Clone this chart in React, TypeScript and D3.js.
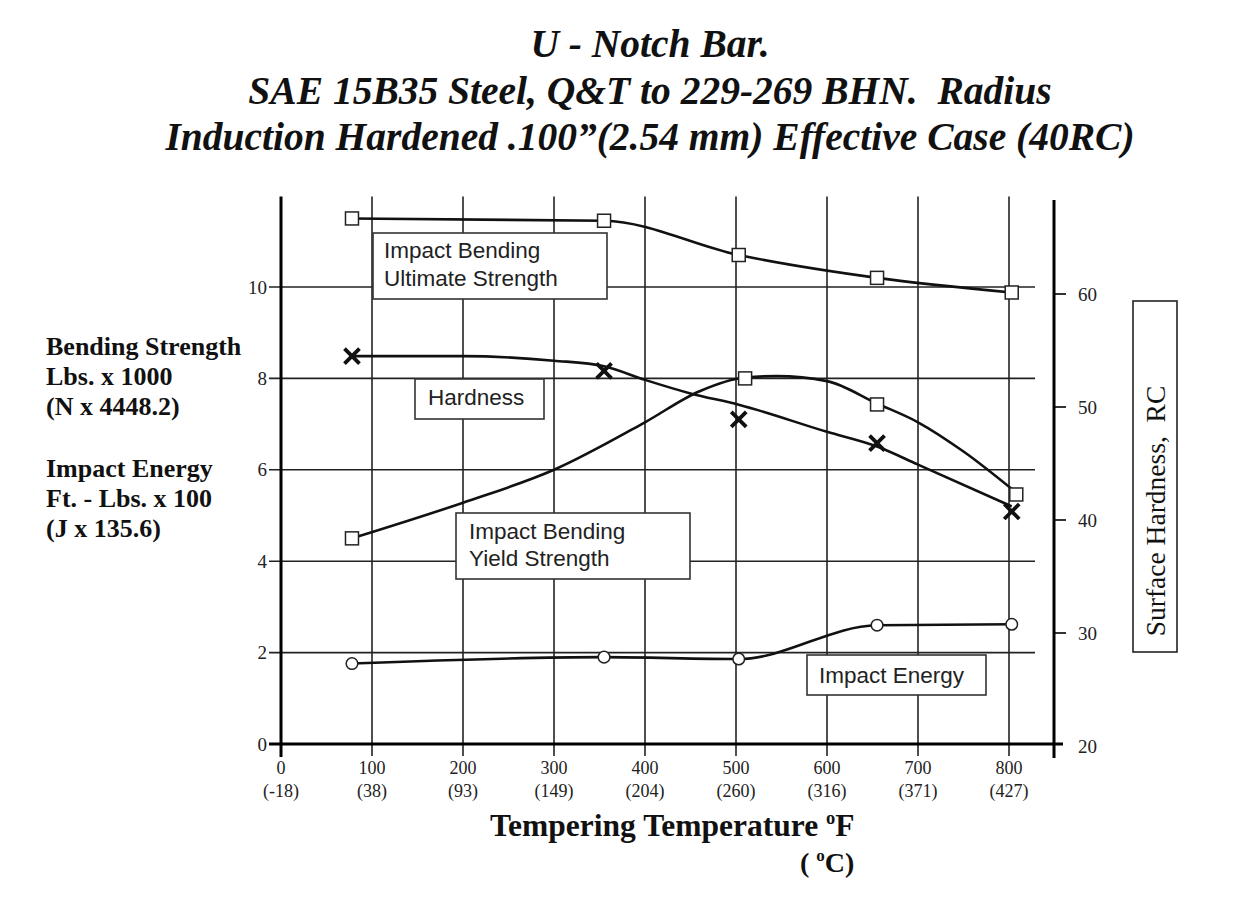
import React from "react";
import * as d3 from "d3";

// ---- data ----
const titleLines = [
  "U - Notch Bar.",
  "SAE 15B35 Steel, Q&T to 229-269 BHN.  Radius",
  "Induction Hardened .100\u201d(2.54 mm) Effective Case (40RC)",
];

const xTicksF = [0, 100, 200, 300, 400, 500, 600, 700, 800];
const xTicksC = ["(-18)", "(38)", "(93)", "(149)", "(204)", "(260)", "(316)", "(371)", "(427)"];
const yLeftTicks = [0, 2, 4, 6, 8, 10];
const yRightTicks = [20, 30, 40, 50, 60];

// Impact bending ultimate strength (Lbs x 1000), square markers
const ultimateTemps = [78, 355, 503, 655, 803];
const ultimateValues = [11.5, 11.45, 10.7, 10.2, 9.88];

// Impact bending yield strength (Lbs x 1000), square markers
const yieldTemps = [78, 510, 655, 808];
const yieldValues = [4.5, 8.0, 7.43, 5.46];
// yield curve as drawn
const yieldCurveTemps = [78, 200, 300, 400, 460, 510, 545, 600, 655, 700, 750, 808];
const yieldCurveValues = [4.5, 5.28, 6.0, 7.04, 7.72, 8.02, 8.05, 7.94, 7.45, 7.04, 6.4, 5.5];

// Surface hardness (RC), X markers
const hardTemps = [78, 355, 503, 655, 803];
const hardValues = [54.5, 53.2, 48.9, 46.8, 40.75];
// hardness curve as drawn
const hardCurveTemps = [78, 200, 300, 355, 400, 450, 503, 600, 655, 700, 803];
const hardCurveValues = [54.5, 54.5, 54.1, 53.6, 52.4, 51.2, 50.2, 47.8, 46.5, 44.9, 41.2];

// Impact energy (Ft-Lbs x 100), circle markers
const energyTemps = [78, 355, 503, 655, 803];
const energyValues = [1.76, 1.9, 1.86, 2.6, 2.62];

const legendUltimate = ["Impact Bending", "Ultimate Strength"];
const legendHardness = ["Hardness"];
const legendYield = ["Impact Bending", "Yield Strength"];
const legendEnergy = ["Impact Energy"];

const leftLabel1 = ["Bending Strength", "Lbs. x 1000", "(N x 4448.2)"];
const leftLabel2 = ["Impact Energy", "Ft. - Lbs. x 100", "(J x 135.6)"];
const rightLabel = "Surface Hardness,  RC";

const SERIF = "'Liberation Serif', 'Times New Roman', serif";
const SANS = "'Liberation Sans', Arial, sans-serif";

export default function App() {
  const x = d3.scaleLinear().domain([0, 800]).range([281, 1009]);
  const yL = d3.scaleLinear().domain([0, 12]).range([744, 195.6]);
  const yR = d3.scaleLinear().domain([20, 60]).range([746, 294]);

  const lineL = d3
    .line<[number, number]>()
    .x((d) => x(d[0]))
    .y((d) => yL(d[1]))
    .curve(d3.curveMonotoneX);
  const lineR = d3
    .line<[number, number]>()
    .x((d) => x(d[0]))
    .y((d) => yR(d[1]))
    .curve(d3.curveMonotoneX);

  const zip = (a: number[], b: number[]) => a.map((t, i) => [t, b[i]] as [number, number]);

  const ultimate = zip(ultimateTemps, ultimateValues);
  const yieldPts = zip(yieldTemps, yieldValues);
  const yieldCurve = zip(yieldCurveTemps, yieldCurveValues);
  const hard = zip(hardTemps, hardValues);
  const hardCurve = zip(hardCurveTemps, hardCurveValues);
  const energy = zip(energyTemps, energyValues);

  const gridColor = "#222";
  const lineColor = "#111";

  const box = (
    x0: number,
    y0: number,
    w: number,
    h: number,
    lines: string[],
    tx: number,
    ty: number,
    dy: number,
    key: string
  ) => (
    <g key={key}>
      <rect x={x0} y={y0} width={w} height={h} fill="#fff" stroke="#333" strokeWidth={1.6} />
      {lines.map((l, i) => (
        <text key={i} x={tx} y={ty + i * dy} fontFamily={SANS} fontSize={22.5} fill="#222">
          {l}
        </text>
      ))}
    </g>
  );

  const sq = 13;

  return (
    <svg
      width={1239}
      height={913}
      viewBox="0 0 1239 913"
      style={{ position: "absolute", left: 0, top: 0, background: "#fff" }}
    >
      <rect x={0} y={0} width={1239} height={913} fill="#fff" />

      {/* title */}
      {titleLines.map((t, i) => (
        <text
          key={i}
          x={650}
          y={57 + i * 46.5}
          textAnchor="middle"
          fontFamily={SERIF}
          fontWeight="bold"
          fontStyle="italic"
          fontSize={39.5}
          fill="#111"
          style={{ whiteSpace: "pre" }}
        >
          {t}
        </text>
      ))}

      {/* horizontal grid lines */}
      {yLeftTicks
        .filter((v) => v > 0)
        .map((v) => (
          <line key={"hg" + v} x1={269} x2={1035} y1={yL(v)} y2={yL(v)} stroke={gridColor} strokeWidth={1.6} />
        ))}
      {/* vertical grid lines */}
      {xTicksF
        .filter((v) => v > 0)
        .map((v) => (
          <line key={"vg" + v} x1={x(v)} x2={x(v)} y1={196.5} y2={756} stroke={gridColor} strokeWidth={1.6} />
        ))}

      {/* axes */}
      <line x1={269} x2={1063} y1={yL(0)} y2={yL(0)} stroke="#000" strokeWidth={3} />
      <line x1={x(0)} x2={x(0)} y1={196.5} y2={757} stroke="#000" strokeWidth={3} />
      <line x1={1054} x2={1054} y1={200} y2={758} stroke="#000" strokeWidth={3} />
      {yRightTicks
        .filter((v) => v > 20)
        .map((v) => (
          <line key={"rt" + v} x1={1054} x2={1066} y1={yR(v)} y2={yR(v)} stroke="#000" strokeWidth={1.6} />
        ))}

      {/* left tick labels */}
      {yLeftTicks.map((v) => (
        <text
          key={"lt" + v}
          x={267}
          y={yL(v) + 6.5}
          textAnchor="end"
          fontFamily={SERIF}
          fontSize={19}
          fill="#222"
        >
          {v}
        </text>
      ))}
      {/* right tick labels */}
      {yRightTicks.map((v) => (
        <text key={"rl" + v} x={1078} y={yR(v) + 6.5} fontFamily={SERIF} fontSize={19} fill="#222">
          {v}
        </text>
      ))}
      {/* bottom tick labels */}
      {xTicksF.map((v, i) => (
        <g key={"bt" + v}>
          <text x={x(v)} y={774} textAnchor="middle" fontFamily={SERIF} fontSize={18} fill="#222">
            {v}
          </text>
          <text x={x(v)} y={797} textAnchor="middle" fontFamily={SERIF} fontSize={18} fill="#222">
            {xTicksC[i]}
          </text>
        </g>
      ))}

      {/* axis titles */}
      <text x={490} y={836} fontFamily={SERIF} fontWeight="bold" fontSize={31.5} fill="#111">
        Tempering Temperature{" "}
        <tspan fontSize={18.5} dy={-12}>
          o
        </tspan>
        <tspan dy={12}>F</tspan>
      </text>
      <text x={800} y={872} fontFamily={SERIF} fontWeight="bold" fontSize={28} fill="#111" style={{ whiteSpace: "pre" }}>
        {"( "}
        <tspan fontSize={17} dy={-11}>
          o
        </tspan>
        <tspan dy={11}>C)</tspan>
      </text>

      {leftLabel1.map((t, i) => (
        <text key={"l1" + i} x={46} y={355 + i * 30} fontFamily={SERIF} fontWeight="bold" fontSize={26} fill="#111">
          {t}
        </text>
      ))}
      {leftLabel2.map((t, i) => (
        <text key={"l2" + i} x={46} y={477 + i * 30} fontFamily={SERIF} fontWeight="bold" fontSize={26} fill="#111">
          {t}
        </text>
      ))}

      <rect x={1133} y={301} width={44} height={351} fill="#fff" stroke="#222" strokeWidth={1.6} />
      <text
        transform="translate(1165,511) rotate(-90)"
        textAnchor="middle"
        fontFamily={SERIF}
        fontSize={27.5}
        fill="#111"
        style={{ whiteSpace: "pre" }}
      >
        {rightLabel}
      </text>

      {/* legend boxes */}
      {box(373, 233, 234, 66, legendUltimate, 384, 258, 28, "bu")}
      {box(415, 379, 129, 40, legendHardness, 428, 405, 0, "bh")}
      {box(456, 513, 234, 66, legendYield, 469, 539, 27, "by")}
      {box(807, 655, 179, 40, legendEnergy, 819, 683, 0, "be")}

      {/* curves */}
      <path d={lineL(ultimate) || ""} fill="none" stroke={lineColor} strokeWidth={2.6} />
      <path d={lineL(yieldCurve) || ""} fill="none" stroke={lineColor} strokeWidth={2.6} />
      <path d={lineR(hardCurve) || ""} fill="none" stroke={lineColor} strokeWidth={2.6} />
      <path d={lineL(energy) || ""} fill="none" stroke={lineColor} strokeWidth={2.6} />

      {/* markers */}
      {ultimate.concat(yieldPts).map((d, i) => (
        <rect
          key={"sq" + i}
          x={x(d[0]) - sq / 2}
          y={yL(d[1]) - sq / 2}
          width={sq}
          height={sq}
          fill="#fff"
          stroke="#222"
          strokeWidth={1.5}
        />
      ))}
      {hard.map((d, i) => {
        const cx = x(d[0]);
        const cy = yR(d[1]);
        const r = 7.5;
        return (
          <path
            key={"hx" + i}
            d={`M${cx - r},${cy - r}L${cx + r},${cy + r}M${cx + r},${cy - r}L${cx - r},${cy + r}`}
            stroke="#111"
            strokeWidth={3.8}
            fill="none"
          />
        );
      })}
      {energy.map((d, i) => (
        <circle key={"ec" + i} cx={x(d[0])} cy={yL(d[1])} r={5.8} fill="#fff" stroke="#222" strokeWidth={1.5} />
      ))}
    </svg>
  );
}
